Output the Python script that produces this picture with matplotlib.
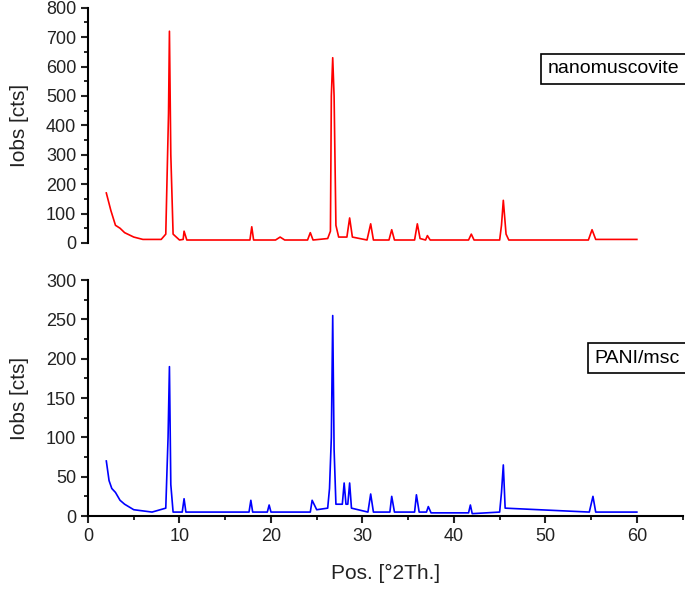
import matplotlib

matplotlib.use("Agg")
import matplotlib.pyplot as plt
from matplotlib.ticker import MultipleLocator

plt.rcParams["font.family"] = "Liberation Sans"

# nanomuscovite pattern (key points)
nano_x = [2, 2.5, 3, 3.5, 4, 5, 6, 8, 8.5, 8.8, 8.9, 9.05, 9.3, 10, 10.4, 10.5, 10.8,
          17.7, 17.9, 18.1, 20.5, 21, 21.5, 24, 24.3, 24.6, 26.2, 26.5, 26.6, 26.75,
          26.9, 27.1, 27.4, 28.3, 28.6, 28.9, 30.5, 30.9, 31.2, 32.9, 33.2, 33.5,
          35.7, 36, 36.3, 36.9, 37.1, 37.4, 41.6, 41.9, 42.2, 45.0, 45.2, 45.4,
          45.7, 46, 54.7, 55.1, 55.5, 60]
nano_y = [170, 110, 60, 50, 35, 20, 12, 12, 30, 440, 720, 300, 30, 10, 12, 40, 10,
          10, 55, 10, 10, 20, 10, 10, 35, 10, 15, 40, 500, 630,
          500, 60, 20, 20, 85, 20, 10, 65, 10, 10, 45, 10,
          10, 65, 15, 10, 25, 10, 10, 30, 10, 10, 60, 145,
          30, 10, 10, 45, 12, 12]

# PANI/msc pattern
pani_x = [2, 2.3, 2.6, 3, 3.5, 4, 5, 7, 8.5, 8.75, 8.9, 9.05, 9.3, 10.3, 10.5, 10.7,
          17.6, 17.8, 18, 19.6, 19.8, 20, 24.3, 24.5, 25, 26.2, 26.4, 26.6, 26.75,
          26.9, 27.1, 27.8, 28, 28.2, 28.4, 28.6, 28.8, 30.6, 30.9, 31.2, 33.0, 33.2,
          33.5, 35.7, 35.9, 36.2, 37.0, 37.2, 37.5, 41.6, 41.8, 42, 45.0, 45.2, 45.4,
          45.6, 54.8, 55.2, 55.5, 60]
pani_y = [70, 45, 35, 30, 20, 15, 8, 5, 10, 100, 190, 40, 5, 5, 22, 5,
          5, 20, 5, 5, 14, 5, 5, 20, 8, 10, 35, 100, 255,
          85, 15, 15, 42, 15, 15, 42, 10, 5, 28, 5, 5, 25,
          5, 5, 27, 5, 5, 12, 4, 4, 14, 3, 5, 30, 65,
          10, 5, 25, 5, 5]

fig = plt.figure(figsize=(6.85, 5.94), dpi=100)
ax1 = fig.add_axes([0.1285, 0.591, 0.868, 0.396])
ax2 = fig.add_axes([0.1285, 0.1313, 0.868, 0.397])

ax1.plot(nano_x, nano_y, color="red", linewidth=1.2)
ax2.plot(pani_x, pani_y, color="blue", linewidth=1.2)

for ax in (ax1, ax2):
    ax.set_xlim(0, 65)
    ax.spines["top"].set_visible(False)
    ax.spines["right"].set_visible(False)
    ax.spines["left"].set_linewidth(1.5)
    ax.spines["bottom"].set_linewidth(1.5)
    ax.tick_params(labelsize=13, width=1.5, length=5, colors="#222222")
    ax.tick_params(which="minor", width=1.2, length=3)
    ax.set_ylabel("Iobs [cts]", fontsize=15, color="#222222")
    ax.yaxis.set_label_coords(-0.1, 0.5)

ax1.set_ylim(0, 800)
ax1.yaxis.set_major_locator(MultipleLocator(100))
ax1.yaxis.set_minor_locator(MultipleLocator(50))
ax1.spines["bottom"].set_visible(False)
ax1.set_xticks([])

ax2.set_ylim(0, 300)
ax2.yaxis.set_major_locator(MultipleLocator(50))
ax2.yaxis.set_minor_locator(MultipleLocator(25))
ax2.xaxis.set_major_locator(MultipleLocator(10))
ax2.xaxis.set_minor_locator(MultipleLocator(5))
ax2.set_xticks([0, 10, 20, 30, 40, 50, 60])
ax2.set_xlabel("Pos. [°2Th.]", fontsize=15, color="#222222", labelpad=14)

box = dict(boxstyle="square,pad=0.35", facecolor="white", edgecolor="black", linewidth=1.2)
ax1.text(0.995, 0.74, "nanomuscovite", transform=ax1.transAxes, ha="right",
         va="center", fontsize=14, bbox=box)
ax2.text(0.995, 0.67, "PANI/msc", transform=ax2.transAxes, ha="right",
         va="center", fontsize=14, bbox=box)

fig.savefig("out.png", dpi=100)
